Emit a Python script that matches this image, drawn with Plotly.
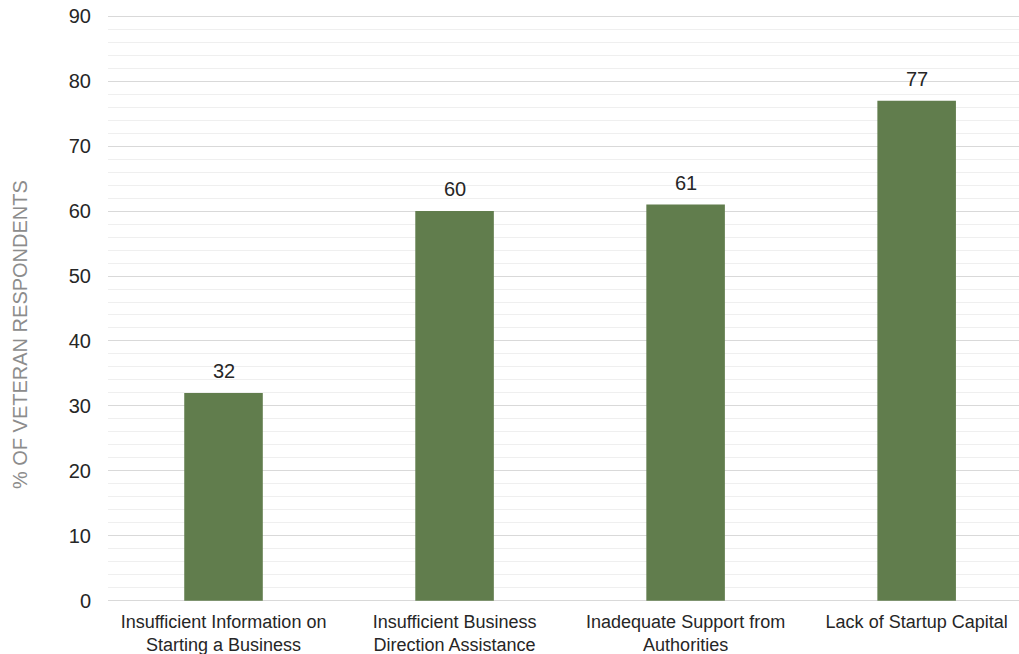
import plotly.graph_objects as go

categories = ["Insufficient Information on<br>Starting a Business",
              "Insufficient Business<br>Direction Assistance",
              "Inadequate Support from<br>Authorities",
              "Lack of Startup Capital"]
values = [32, 60, 61, 77]
y_ticks = [0, 10, 20, 30, 40, 50, 60, 70, 80, 90]

xs = list(range(len(categories)))

fig = go.Figure(go.Bar(
    x=xs, y=values,
    marker=dict(color="#617d4d", line=dict(width=0)),
    width=0.34,
))

fig.update_layout(
    width=1019, height=654,
    margin=dict(l=108, r=0, t=15, b=52, pad=0),
    paper_bgcolor="white", plot_bgcolor="white",
    showlegend=False,
    font=dict(family="Liberation Sans, Arial"),
    xaxis=dict(
        tickmode="array", tickvals=xs, ticktext=categories,
        range=[-0.5, 3.443], showgrid=False, zeroline=False, showline=False,
        tickfont=dict(size=18, color="#262626"), ticks="", ticklabelstandoff=7,
        automargin=False,
    ),
    yaxis=dict(
        range=[-0.2, 90.2], tickmode="array", tickvals=y_ticks,
        showgrid=True, gridcolor="#d9d9d9", gridwidth=1,
        minor=dict(tickmode="array", tickvals=[v for v in range(2, 90, 2) if v % 10],
                   showgrid=True, gridcolor="#efefef", gridwidth=1),
        zeroline=False, showline=False,
        tickfont=dict(size=20, color="#262626"), ticks="", ticklabelstandoff=16,
        ticklabeloverflow="allow",
        automargin=False,
    ),
)

annotations = [dict(
    text="% OF VETERAN RESPONDENTS", textangle=-90,
    xref="paper", yref="paper", x=(20 - 108) / 911, y=(601 - 335) / 585,
    xanchor="center", yanchor="middle", showarrow=False,
    font=dict(size=20, color="#8c8c8c"),
)]
for xi, v in zip(xs, values):
    annotations.append(dict(
        x=xi, y=v, xref="x", yref="y", text=str(v), showarrow=False,
        yanchor="bottom", yshift=9,
        font=dict(size=20, color="#262626"),
    ))
fig.update_layout(annotations=annotations)

fig.write_html("out.html", config={"displayModeBar": False},
               post_script="document.body.style.margin='0';")
